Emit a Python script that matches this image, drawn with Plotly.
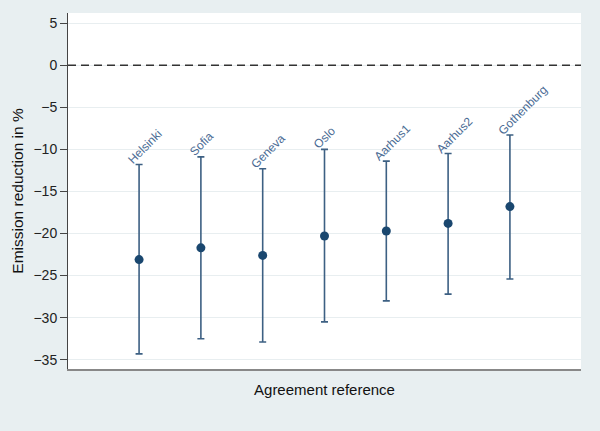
import plotly.graph_objects as go

agreements = ["Helsinki", "Sofia", "Geneva", "Oslo", "Aarhus1", "Aarhus2", "Gothenburg"]
positions = [1, 2, 3, 4, 5, 6, 7]
estimate = [-23.1, -21.7, -22.6, -20.3, -19.7, -18.8, -16.8]
upper = [-11.8, -10.9, -12.3, -10.0, -11.4, -10.5, -8.3]
lower = [-34.3, -32.5, -32.9, -30.5, -28.0, -27.2, -25.4]
y_ticks = [5, 0, -5, -10, -15, -20, -25, -30, -35]

err_plus = [u - e for u, e in zip(upper, estimate)]
err_minus = [e - l for e, l in zip(estimate, lower)]

BG = "#e8eff1"
FONT = "Liberation Sans, Arial, sans-serif"

fig = go.Figure()

fig.add_trace(go.Scatter(
    x=positions, y=estimate, mode="markers",
    marker=dict(color="#1a476f", size=9),
    error_y=dict(type="data", symmetric=False, array=err_plus, arrayminus=err_minus,
                 color="#3d6083", thickness=1.6, width=3.5),
    showlegend=False, hoverinfo="skip",
))

fig.add_hline(y=0, line=dict(color="#333333", width=1.6, dash="8px,5px"))

for xp, up, name in zip(positions, upper, agreements):
    fig.add_annotation(
        x=xp, y=up, text=name, showarrow=False, textangle=-45,
        xanchor="left", yanchor="bottom", xshift=-17, yshift=-5,
        font=dict(family=FONT, size=12, color="#4a6b94"),
    )

fig.update_layout(
    width=600, height=431,
    margin=dict(l=68, r=19, t=13, b=62),
    paper_bgcolor=BG, plot_bgcolor="white",
    font=dict(family=FONT, color="#222222"),
)

fig.update_xaxes(
    range=[-0.15, 8.15], showticklabels=False, ticks="", showgrid=False, zeroline=False,
    showline=True, linecolor="#888888", linewidth=2,
    title=dict(text="Agreement reference", font=dict(size=15, color="#111111"), standoff=14),
)
fig.update_yaxes(
    range=[-36.1, 6.2], tickmode="array", tickvals=y_ticks,
    ticks="outside", ticklen=7, tickcolor="#444444", tickwidth=1,
    tickfont=dict(size=14, color="#222222"),
    showgrid=True, gridcolor="#e8eef0", gridwidth=1, zeroline=False,
    showline=True, linecolor="#444444", linewidth=1,
    title=dict(text="Emission reduction in %", font=dict(size=15.5, color="#111111"), standoff=6),
)

fig.write_html("out.html")
